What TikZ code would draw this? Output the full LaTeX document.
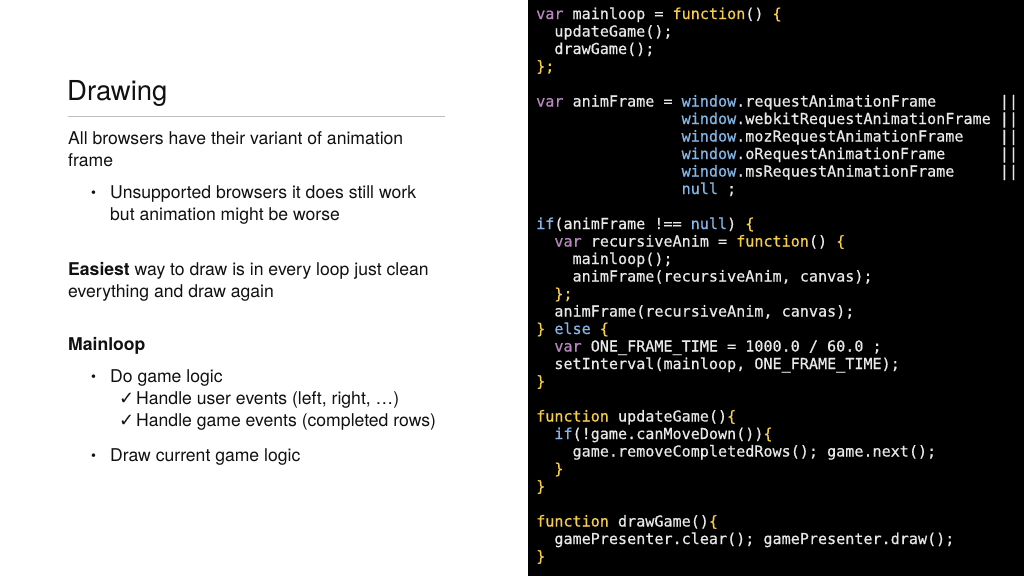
\documentclass[tikz,border=0pt]{standalone}
\usepackage{fontspec}
\setmainfont{TeX Gyre Heros}
\newfontfamily\codefont{DejaVu Sans Mono}[FakeBold=0.6]
\newfontfamily\symfont{DejaVu Sans}
\definecolor{codebg}{RGB}{0,0,0}
\definecolor{codefg}{RGB}{232,232,232}
\definecolor{cvar}{RGB}{184,134,190}
\definecolor{cyel}{RGB}{246,206,72}
\definecolor{cblu}{RGB}{132,182,230}
\definecolor{rulecol}{RGB}{190,190,190}
\definecolor{bodyfg}{RGB}{17,17,17}
\newlength\cwd
\setlength\cwd{9.091pt}
\newcommand\csp[1]{\hspace*{#1\cwd}}
\newcommand\tkv[1]{{\color{cvar}#1}}
\newcommand\tky[1]{{\color{cyel}#1}}
\newcommand\tkb[1]{{\color{cblu}#1}}
\tikzset{
  code/.style={anchor=base west, inner sep=0pt, text=codefg,
    font=\codefont\fontsize{15.1pt}{17.5pt}\selectfont},
  body/.style={anchor=base west, inner sep=0pt, text=bodyfg,
    font=\fontsize{17.6pt}{22pt}\selectfont},
  titlestyle/.style={anchor=base west, inner sep=0pt, text=bodyfg,
    font=\fontsize{27.5pt}{30pt}\selectfont},
  bulletstyle/.style={anchor=base west, inner sep=0pt, text=bodyfg,
    font=\fontsize{14pt}{17pt}\selectfont},
  checkstyle/.style={anchor=base west, inner sep=0pt, text=bodyfg,
    font=\symfont\fontsize{18pt}{20pt}\selectfont},
}
\begin{document}
\begin{tikzpicture}[x=1pt,y=-1pt]
\useasboundingbox (0,0) rectangle (1024,576);
\fill[white] (0,0) rectangle (1024,576);
\fill[codebg] (528,0) rectangle (1024,576);
% left column
\node[titlestyle] (title) at (67,100) {Drawing};
\coordinate (ruleA) at (68,116);
\coordinate (ruleB) at (445,116);
\draw[rulecol, line width=1pt] (ruleA) -- (ruleB);
\node[body] (t1) at (68,144) {All browsers have their variant of animation};
\node[body] (t2) at (68,166) {frame};
\node[bulletstyle] (b1) at (91,197) {•};
\node[body] (t3) at (110,198) {Unsupported browsers it does still work};
\node[body] (t4) at (110,220) {but animation might be worse};
\node[body] (t5) at (68,275) {\textbf{Easiest} way to draw is in every loop just clean};
\node[body] (t6) at (68,297) {everything and draw again};
\node[body] (t7) at (68,350) {\textbf{Mainloop}};
\node[bulletstyle] (b2) at (91,381) {•};
\node[body] (t8) at (110,382) {Do game logic};
\node[checkstyle] (k1) at (119,404) {✓};
\node[body] (t9) at (136,404) {Handle user events (left, right, …)};
\node[checkstyle] (k2) at (119,426) {✓};
\node[body] (t10) at (136,426) {Handle game events (completed rows)};
\node[bulletstyle] (b3) at (91,460) {•};
\node[body] (t11) at (110,461) {Draw current game logic};
% code column
\node[code] (c0) at (536,{19+17.5*0}) {\tkv{var} mainloop = \tky{function}() \tky{\{}};
\node[code] (c1) at (536,{19+17.5*1}) {\csp{2}updateGame();};
\node[code] (c2) at (536,{19+17.5*2}) {\csp{2}drawGame();};
\node[code] (c3) at (536,{19+17.5*3}) {\tky{\};}};
\node[code] (c5) at (536,{19+17.5*5}) {\tkv{var} animFrame = \tkb{window}.requestAnimationFrame\csp{7}||};
\node[code] (c6) at (536,{19+17.5*6}) {\csp{16}\tkb{window}.webkitRequestAnimationFrame\csp{1}||};
\node[code] (c7) at (536,{19+17.5*7}) {\csp{16}\tkb{window}.mozRequestAnimationFrame\csp{4}||};
\node[code] (c8) at (536,{19+17.5*8}) {\csp{16}\tkb{window}.oRequestAnimationFrame\csp{6}||};
\node[code] (c9) at (536,{19+17.5*9}) {\csp{16}\tkb{window}.msRequestAnimationFrame\csp{5}||};
\node[code] (c10) at (536,{19+17.5*10}) {\csp{16}\tkb{null}\csp{1};};
\node[code] (c12) at (536,{19+17.5*12}) {\tkb{if}(animFrame !== \tkb{null})\csp{1}\tky{\{}};
\node[code] (c13) at (536,{19+17.5*13}) {\csp{2}\tkv{var} recursiveAnim = \tky{function}()\csp{1}\tky{\{}};
\node[code] (c14) at (536,{19+17.5*14}) {\csp{4}mainloop();};
\node[code] (c15) at (536,{19+17.5*15}) {\csp{4}animFrame(recursiveAnim, canvas);};
\node[code] (c16) at (536,{19+17.5*16}) {\csp{2}\tky{\};}};
\node[code] (c17) at (536,{19+17.5*17}) {\csp{2}animFrame(recursiveAnim, canvas);};
\node[code] (c18) at (536,{19+17.5*18}) {\tky{\}}\csp{1}\tkb{else}\csp{1}\tky{\{}};
\node[code] (c19) at (536,{19+17.5*19}) {\csp{2}\tkv{var} ONE\_FRAME\_TIME = 1000.0 / 60.0 ;};
\node[code] (c20) at (536,{19+17.5*20}) {\csp{2}setInterval(mainloop, ONE\_FRAME\_TIME);};
\node[code] (c21) at (536,{19+17.5*21}) {\tky{\}}};
\node[code] (c23) at (536,{19+17.5*23}) {\tky{function} updateGame()\tky{\{}};
\node[code] (c24) at (536,{19+17.5*24}) {\csp{2}\tkb{if}(!game.canMoveDown())\tky{\{}};
\node[code] (c25) at (536,{19+17.5*25}) {\csp{4}game.removeCompletedRows(); game.next();};
\node[code] (c26) at (536,{19+17.5*26}) {\csp{2}\tky{\}}};
\node[code] (c27) at (536,{19+17.5*27}) {\tky{\}}};
\node[code] (c29) at (536,{19+17.5*29}) {\tky{function} drawGame()\tky{\{}};
\node[code] (c30) at (536,{19+17.5*30}) {\csp{2}gamePresenter.clear(); gamePresenter.draw();};
\node[code] (c31) at (536,{19+17.5*31}) {\tky{\}}};
\end{tikzpicture}
\end{document}
